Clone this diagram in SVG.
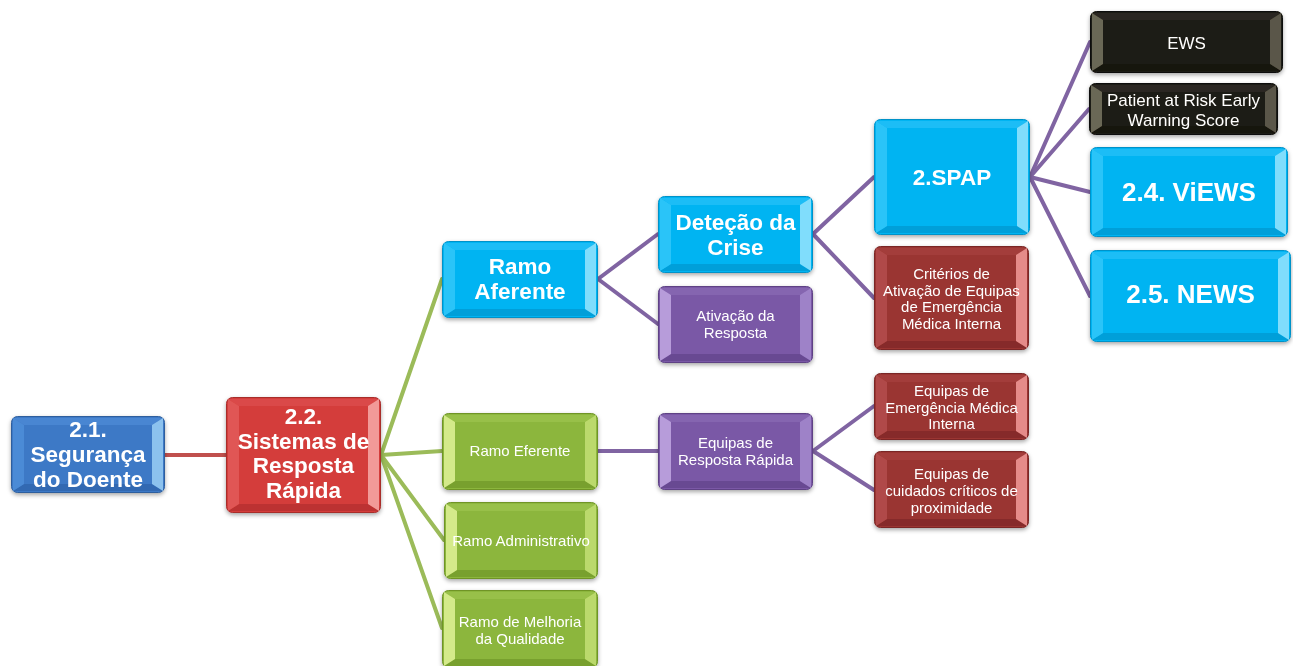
<svg xmlns="http://www.w3.org/2000/svg" width="1293" height="666" viewBox="0 0 1293 666">
<defs>
<filter id="sh" x="-10%" y="-10%" width="120%" height="130%">
<feDropShadow dx="0" dy="2" stdDeviation="2" flood-color="#000" flood-opacity="0.35"/>
</filter>
</defs>
<style>
.node{filter:url(#sh)}
text{font-family:"Liberation Sans",Arial,sans-serif;fill:#fff;text-anchor:middle}
.b{font-weight:bold;font-size:22.5px}
.xl{font-weight:bold;font-size:26px}
.r{font-size:15px}
.m{font-size:17px}
.lk{fill:none;stroke-width:4;stroke-linecap:round}
.lr{stroke:#C0504D}
.lg{stroke:#9BBB59}
.lp{stroke:#8064A2}
.blue .base{fill:#3D79C6;stroke:#2F5F9E}.blue .L{fill:#4C8BD6}.blue .R{fill:#8CC2EE}.blue .T{fill:#4A86D2}.blue .B{fill:#3069B2}
.red .base{fill:#D43C3A;stroke:#A82E2C}.red .L{fill:#E05654}.red .R{fill:#F29A98}.red .T{fill:#DA4A48}.red .B{fill:#BC3230}
.cyan .base{fill:#00B4F2;stroke:#0092C8}.cyan .L{fill:#2CC4F8}.cyan .R{fill:#80DDFC}.cyan .T{fill:#1CBDF6}.cyan .B{fill:#009FD9}
.purple .base{fill:#7A58A6;stroke:#5E4385}.purple .L{fill:#B79CDA}.purple .R{fill:#9E82C8}.purple .T{fill:#8565B0}.purple .B{fill:#684A92}
.dred .base{fill:#9A3432;stroke:#7A2826}.dred .L{fill:#B04A48}.dred .R{fill:#E58B89}.dred .T{fill:#A33C3A}.dred .B{fill:#862B29}
.black .base{fill:#1E1C12;stroke:#0E0D08}.black .L{fill:#6B6756}.black .R{fill:#5A5648}.black .T{fill:#2A2820}.black .B{fill:#151309}
.green .base{fill:#8CB63C;stroke:#6F9428}.green .L{fill:#D4EA8A}.green .R{fill:#BBD96C}.green .T{fill:#98C048}.green .B{fill:#78A02E}
</style>

<g id="connectors">
<line class="lk lr" x1="165" y1="455" x2="226" y2="455"/>
<line class="lk lg" x1="381" y1="455" x2="442" y2="279"/>
<line class="lk lg" x1="381" y1="455" x2="442" y2="451"/>
<line class="lk lg" x1="381" y1="455" x2="444" y2="540"/>
<line class="lk lg" x1="381" y1="455" x2="442" y2="628"/>
<line class="lk lp" x1="598" y1="279" x2="658" y2="234"/>
<line class="lk lp" x1="598" y1="279" x2="658" y2="324"/>
<line class="lk lp" x1="813" y1="234" x2="874" y2="177"/>
<line class="lk lp" x1="813" y1="234" x2="874" y2="298"/>
<line class="lk lp" x1="1030" y1="177" x2="1090" y2="42"/>
<line class="lk lp" x1="1030" y1="177" x2="1089" y2="109"/>
<line class="lk lp" x1="1030" y1="177" x2="1090" y2="192"/>
<line class="lk lp" x1="1030" y1="177" x2="1090" y2="296"/>
<line class="lk lp" x1="598" y1="451" x2="658" y2="451"/>
<line class="lk lp" x1="813" y1="451" x2="874" y2="406"/>
<line class="lk lp" x1="813" y1="451" x2="874" y2="490"/>
</g>

<g id="n21" class="node blue" transform="translate(11,416)">
<rect class="base" x="0.5" y="0.5" width="153" height="76" rx="6"/>
<polygon class="T" points="2,2 152,2 141,9 13,9"/>
<polygon class="B" points="2,75 152,75 141,68 13,68"/>
<polygon class="L" points="2,2 13,9 13,68 2,75"/>
<polygon class="R" points="152,2 141,9 141,68 152,75"/>
<text class="b" x="77" y="21">2.1.</text>
<text class="b" x="77" y="46">Segurança</text>
<text class="b" x="77" y="71">do Doente</text>
</g>

<g id="n22" class="node red" transform="translate(226,397)">
<rect class="base" x="0.5" y="0.5" width="154" height="115" rx="6"/>
<polygon class="T" points="2,2 153,2 142,9 13,9"/>
<polygon class="B" points="2,114 153,114 142,107 13,107"/>
<polygon class="L" points="2,2 13,9 13,107 2,114"/>
<polygon class="R" points="153,2 142,9 142,107 153,114"/>
<text class="b" x="77.5" y="27">2.2.</text>
<text class="b" x="77.5" y="52">Sistemas de</text>
<text class="b" x="77.5" y="76">Resposta</text>
<text class="b" x="77.5" y="101">Rápida</text>
</g>

<g id="aferente" class="node cyan" transform="translate(442,241)">
<rect class="base" x="0.5" y="0.5" width="155" height="76" rx="6"/>
<polygon class="T" points="2,2 154,2 143,9 13,9"/>
<polygon class="B" points="2,75 154,75 143,68 13,68"/>
<polygon class="L" points="2,2 13,9 13,68 2,75"/>
<polygon class="R" points="154,2 143,9 143,68 154,75"/>
<text class="b" x="78" y="33">Ramo</text>
<text class="b" x="78" y="58">Aferente</text>
</g>

<g id="eferente" class="node green" transform="translate(442,413)">
<rect class="base" x="0.5" y="0.5" width="155" height="76" rx="6"/>
<polygon class="T" points="2,2 154,2 143,9 13,9"/>
<polygon class="B" points="2,75 154,75 143,68 13,68"/>
<polygon class="L" points="2,2 13,9 13,68 2,75"/>
<polygon class="R" points="154,2 143,9 143,68 154,75"/>
<text class="r" x="78" y="43">Ramo Eferente</text>
</g>

<g id="administrativo" class="node green" transform="translate(444,502)">
<rect class="base" x="0.5" y="0.5" width="153" height="76" rx="6"/>
<polygon class="T" points="2,2 152,2 141,9 13,9"/>
<polygon class="B" points="2,75 152,75 141,68 13,68"/>
<polygon class="L" points="2,2 13,9 13,68 2,75"/>
<polygon class="R" points="152,2 141,9 141,68 152,75"/>
<text class="r" x="77" y="44">Ramo Administrativo</text>
</g>

<g id="melhoria" class="node green" transform="translate(442,590)">
<rect class="base" x="0.5" y="0.5" width="155" height="77" rx="6"/>
<polygon class="T" points="2,2 154,2 143,9 13,9"/>
<polygon class="B" points="2,76 154,76 143,69 13,69"/>
<polygon class="L" points="2,2 13,9 13,69 2,76"/>
<polygon class="R" points="154,2 143,9 143,69 154,76"/>
<text class="r" x="78" y="37">Ramo de Melhoria</text>
<text class="r" x="78" y="54">da Qualidade</text>
</g>

<g id="detecao" class="node cyan" transform="translate(658,196)">
<rect class="base" x="0.5" y="0.5" width="154" height="76" rx="6"/>
<polygon class="T" points="2,2 153,2 142,9 13,9"/>
<polygon class="B" points="2,75 153,75 142,68 13,68"/>
<polygon class="L" points="2,2 13,9 13,68 2,75"/>
<polygon class="R" points="153,2 142,9 142,68 153,75"/>
<text class="b" x="77.5" y="34">Deteção da</text>
<text class="b" x="77.5" y="59">Crise</text>
</g>

<g id="ativacao" class="node purple" transform="translate(658,286)">
<rect class="base" x="0.5" y="0.5" width="154" height="76" rx="6"/>
<polygon class="T" points="2,2 153,2 142,9 13,9"/>
<polygon class="B" points="2,75 153,75 142,68 13,68"/>
<polygon class="L" points="2,2 13,9 13,68 2,75"/>
<polygon class="R" points="153,2 142,9 142,68 153,75"/>
<text class="r" x="77.5" y="35">Ativação da</text>
<text class="r" x="77.5" y="52">Resposta</text>
</g>

<g id="equipas_rr" class="node purple" transform="translate(658,413)">
<rect class="base" x="0.5" y="0.5" width="154" height="76" rx="6"/>
<polygon class="T" points="2,2 153,2 142,9 13,9"/>
<polygon class="B" points="2,75 153,75 142,68 13,68"/>
<polygon class="L" points="2,2 13,9 13,68 2,75"/>
<polygon class="R" points="153,2 142,9 142,68 153,75"/>
<text class="r" x="77.5" y="35">Equipas de</text>
<text class="r" x="77.5" y="52">Resposta Rápida</text>
</g>

<g id="spap" class="node cyan" transform="translate(874,119)">
<rect class="base" x="0.5" y="0.5" width="155" height="115" rx="6"/>
<polygon class="T" points="2,2 154,2 143,9 13,9"/>
<polygon class="B" points="2,114 154,114 143,107 13,107"/>
<polygon class="L" points="2,2 13,9 13,107 2,114"/>
<polygon class="R" points="154,2 143,9 143,107 154,114"/>
<text class="b" x="78" y="66">2.SPAP</text>
</g>

<g id="criterios" class="node dred" transform="translate(874,246)">
<rect class="base" x="0.5" y="0.5" width="154" height="103" rx="6"/>
<polygon class="T" points="2,2 153,2 142,9 13,9"/>
<polygon class="B" points="2,102 153,102 142,95 13,95"/>
<polygon class="L" points="2,2 13,9 13,95 2,102"/>
<polygon class="R" points="153,2 142,9 142,95 153,102"/>
<text class="r" x="77.5" y="33">Critérios de</text>
<text class="r" x="77.5" y="50">Ativação de Equipas</text>
<text class="r" x="77.5" y="66">de Emergência</text>
<text class="r" x="77.5" y="83">Médica Interna</text>
</g>

<g id="emi" class="node dred" transform="translate(874,373)">
<rect class="base" x="0.5" y="0.5" width="154" height="66" rx="6"/>
<polygon class="T" points="2,2 153,2 142,9 13,9"/>
<polygon class="B" points="2,65 153,65 142,58 13,58"/>
<polygon class="L" points="2,2 13,9 13,58 2,65"/>
<polygon class="R" points="153,2 142,9 142,58 153,65"/>
<text class="r" x="77.5" y="23">Equipas de</text>
<text class="r" x="77.5" y="39.5">Emergência Médica</text>
<text class="r" x="77.5" y="56">Interna</text>
</g>

<g id="cuidados" class="node dred" transform="translate(874,451)">
<rect class="base" x="0.5" y="0.5" width="154" height="76" rx="6"/>
<polygon class="T" points="2,2 153,2 142,9 13,9"/>
<polygon class="B" points="2,75 153,75 142,68 13,68"/>
<polygon class="L" points="2,2 13,9 13,68 2,75"/>
<polygon class="R" points="153,2 142,9 142,68 153,75"/>
<text class="r" x="77.5" y="28">Equipas de</text>
<text class="r" x="77.5" y="45">cuidados críticos de</text>
<text class="r" x="77.5" y="62">proximidade</text>
</g>

<g id="ews" class="node black" transform="translate(1090,11)">
<rect class="base" x="0.5" y="0.5" width="192" height="61" rx="6"/>
<polygon class="T" points="2,2 191,2 180,9 13,9"/>
<polygon class="B" points="2,60 191,60 180,53 13,53"/>
<polygon class="L" points="2,2 13,9 13,53 2,60"/>
<polygon class="R" points="191,2 180,9 180,53 191,60"/>
<text class="m" x="96.5" y="38">EWS</text>
</g>

<g id="patient" class="node black" transform="translate(1089,83)">
<rect class="base" x="0.5" y="0.5" width="188" height="51" rx="6"/>
<polygon class="T" points="2,2 187,2 176,9 13,9"/>
<polygon class="B" points="2,50 187,50 176,43 13,43"/>
<polygon class="L" points="2,2 13,9 13,43 2,50"/>
<polygon class="R" points="187,2 176,9 176,43 187,50"/>
<text class="m" x="94.5" y="23">Patient at Risk Early</text>
<text class="m" x="94.5" y="43">Warning Score</text>
</g>

<g id="views" class="node cyan" transform="translate(1090,147)">
<rect class="base" x="0.5" y="0.5" width="197" height="89" rx="6"/>
<polygon class="T" points="2,2 196,2 185,9 13,9"/>
<polygon class="B" points="2,88 196,88 185,81 13,81"/>
<polygon class="L" points="2,2 13,9 13,81 2,88"/>
<polygon class="R" points="196,2 185,9 185,81 196,88"/>
<text class="xl" x="99" y="54">2.4. ViEWS</text>
</g>

<g id="news" class="node cyan" transform="translate(1090,250)">
<rect class="base" x="0.5" y="0.5" width="200" height="91" rx="6"/>
<polygon class="T" points="2,2 199,2 188,9 13,9"/>
<polygon class="B" points="2,90 199,90 188,83 13,83"/>
<polygon class="L" points="2,2 13,9 13,83 2,90"/>
<polygon class="R" points="199,2 188,9 188,83 199,90"/>
<text class="xl" x="100.5" y="53">2.5. NEWS</text>
</g>
</svg>
